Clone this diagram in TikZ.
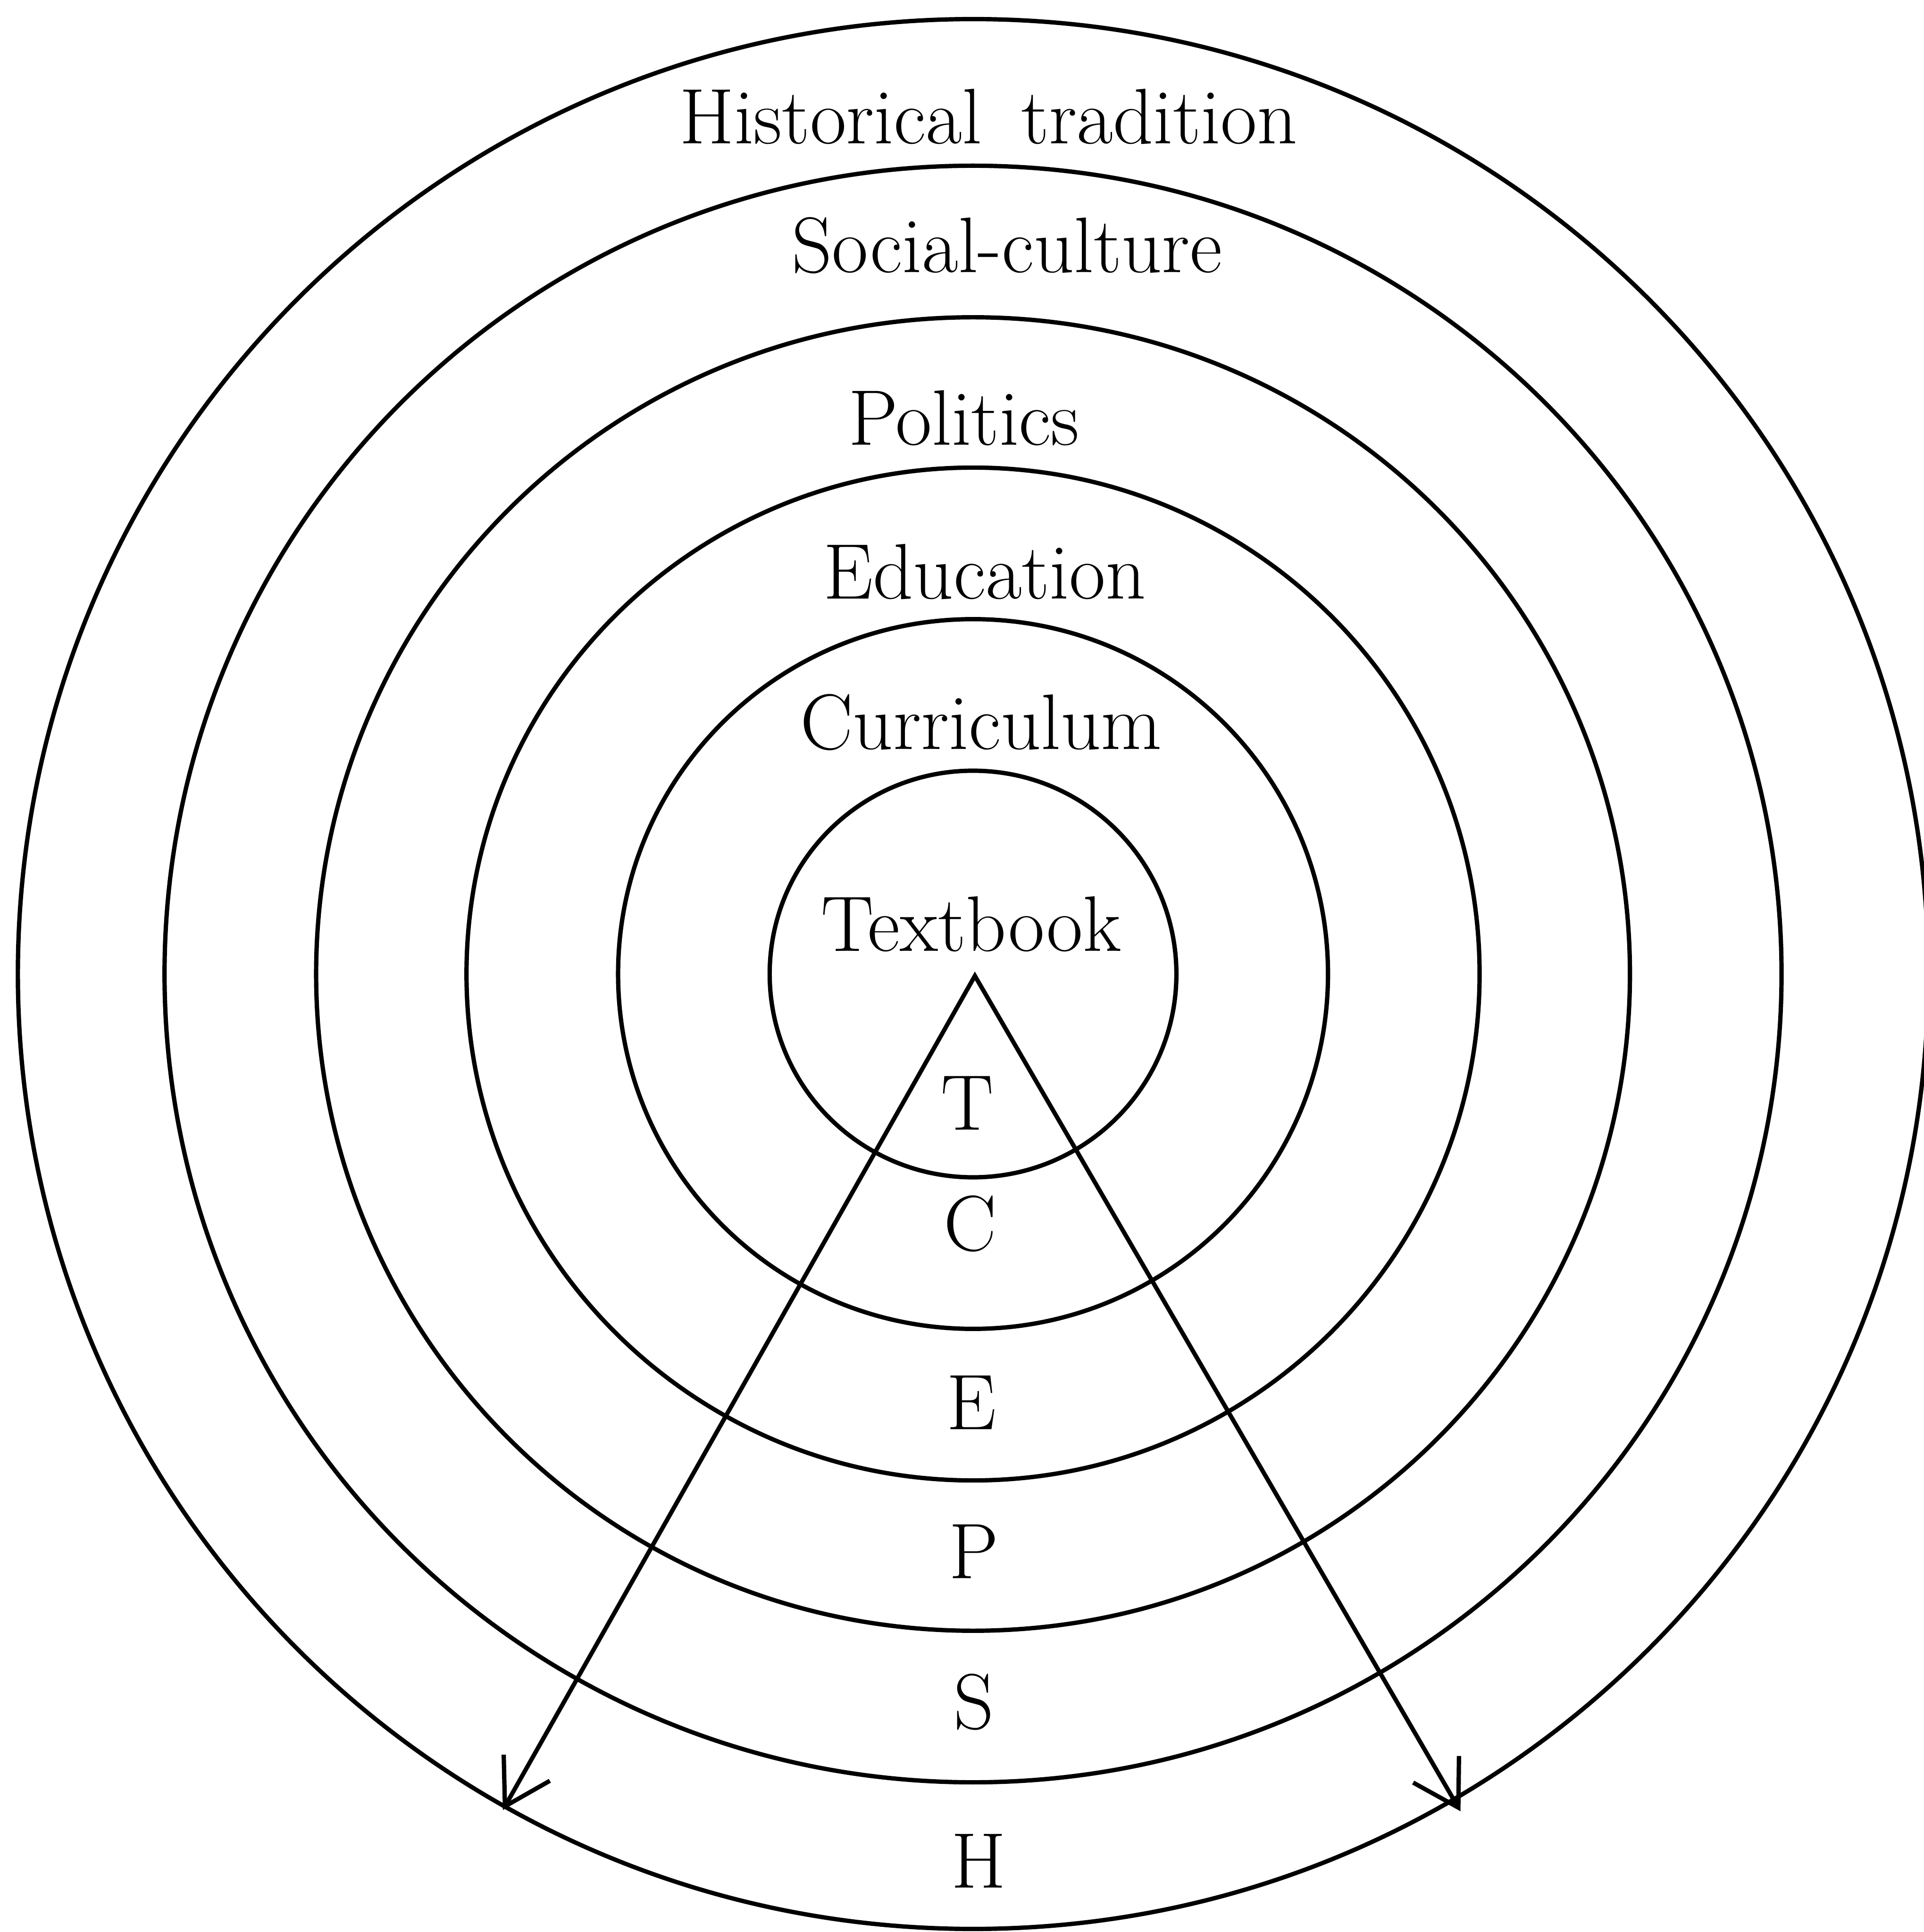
\documentclass[tikz,border=0pt]{standalone}
\usepackage{tikz}
\usetikzlibrary{arrows.meta}

\begin{document}
\begin{tikzpicture}[
		ring/.style={line width=1pt},
		lbl/.style={anchor=base, inner sep=0pt, font=\fontsize{18.2}{22}\selectfont},
		>={Straight Barb[length=3.6mm,width=4.3mm]}]
				% Frame
				\useasboundingbox (0,0) rectangle (15.61,-15.68);
				\coordinate (c) at (7.895,-7.905);
				% Circles
				\foreach \r in {1.65,2.88,4.11,5.33,6.56,7.75}
					\draw[ring] (c) circle (\r);
				% Layer names
				\node[lbl] (hist) at (8.02,-1.165) {Historical\enspace tradition};
				\node[lbl] (soc) at (8.17,-2.21) {Social-culture};
				\node[lbl] (pol) at (7.82,-3.61) {Politics};
				\node[lbl] (edu) at (7.99,-4.86) {Education};
				\node[lbl] (cur) at (7.96,-6.08) {Curriculum};
				\node[lbl] (txt) at (7.88,-7.72) {Textbook};
				% Arrows
				\coordinate (apex) at (7.91,-7.92);
				\coordinate (endL) at (4.08,-14.69);
				\coordinate (endR) at (11.85,-14.70);
				\draw[ring,<->] (endL) -- (apex) -- (endR);
				% Initials
				\foreach \l/\x/\y in {T/7.85/9.17, C/7.87/10.15, E/7.88/11.60, P/7.90/12.81, S/7.90/14.03, H/7.94/15.32}
					\node[lbl] (i\l) at (\x,-\y) {\l};
\end{tikzpicture}
\end{document}
